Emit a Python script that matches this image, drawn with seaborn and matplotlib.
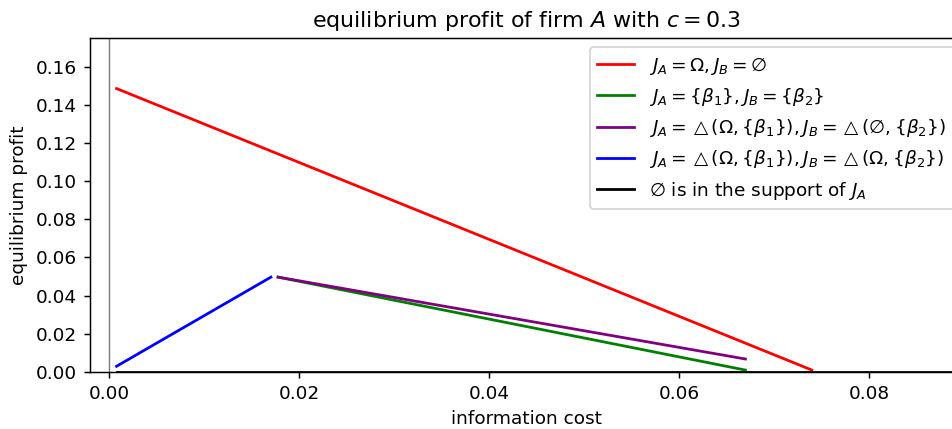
import matplotlib
matplotlib.use("Agg")
import matplotlib.pyplot as plt
import seaborn as sns
import pandas as pd

# values
red_x = [0.0008, 0.074]
red_y = [0.1485, 0.0010]
green_x = [0.0178, 0.067]
green_y = [0.0497, 0.0010]
purple_x = [0.0178, 0.067]
purple_y = [0.0497, 0.0068]
blue_x = [0.0008, 0.01705]
blue_y = [0.0030, 0.0497]
black_x = [0.0008, 0.095]
black_y = [0.0, 0.0]

labels = [
    r"$J_A = \Omega, J_B = \emptyset$",
    r"$J_A = \{\beta_1\}, J_B = \{\beta_2\}$",
    r"$J_A = \triangle(\Omega, \{\beta_1\}), J_B = \triangle(\emptyset, \{\beta_2\})$",
    r"$J_A = \triangle(\Omega, \{\beta_1\}), J_B = \triangle(\Omega, \{\beta_2\})$",
    r"$\emptyset$ is in the support of $J_A$",
]
colors = ["red", "green", "purple", "blue", "black"]
series = [(red_x, red_y), (green_x, green_y), (purple_x, purple_y),
          (blue_x, blue_y), (black_x, black_y)]

dpi = 133
fig = plt.figure(figsize=(952 / dpi, 429 / dpi), dpi=dpi)
# axes run slightly past the right edge of the figure, as in the reference
ax = fig.add_axes([0.0945, 0.1329, 0.917, 0.7786])

ax.axvline(0, color="gray", lw=0.8)
for (xs, ys), lab, col in zip(series, labels, colors):
    df = pd.DataFrame({"x": xs, "y": ys})
    sns.lineplot(data=df, x="x", y="y", color=col, lw=1.5, label=lab, ax=ax)

ax.set_xlim(-0.002, 0.0899)
ax.set_ylim(0, 0.175)
ax.set_xticks([0.0, 0.02, 0.04, 0.06, 0.08])
ax.set_yticks([0.0, 0.02, 0.04, 0.06, 0.08, 0.10, 0.12, 0.14, 0.16])
ax.xaxis.set_major_formatter(matplotlib.ticker.FormatStrFormatter("%.2f"))
ax.yaxis.set_major_formatter(matplotlib.ticker.FormatStrFormatter("%.2f"))
ax.set_xlabel("information cost")
ax.set_ylabel("equilibrium profit")
ax.set_title(r"equilibrium profit of firm $A$ with $c = 0.3$")
ax.legend(loc="upper right")

fig.savefig("out.png", dpi=dpi)
